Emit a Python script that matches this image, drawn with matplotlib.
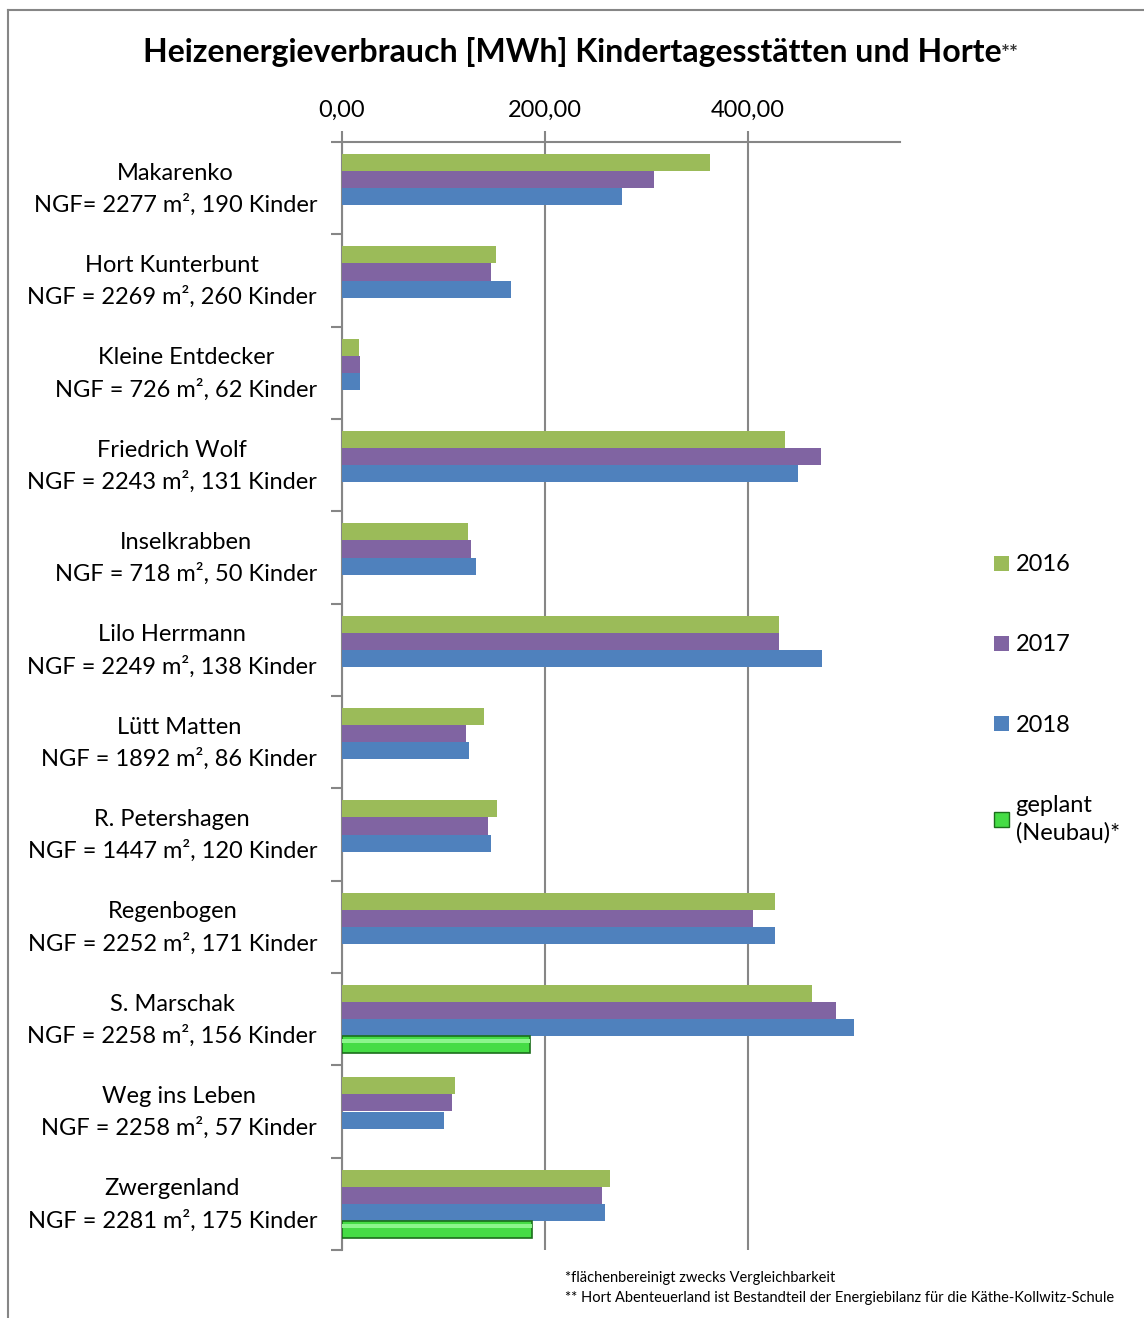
import matplotlib.pyplot as plt
import matplotlib.transforms as mtransforms
import numpy as np
from matplotlib.lines import Line2D
from matplotlib.patches import Patch

plt.rcParams['font.family'] = ['Lato', 'DejaVu Sans']

kitas = ['Makarenko\nNGF= 2277 m², 190 Kinder',
         'Hort Kunterbunt\nNGF = 2269 m², 260 Kinder',
         'Kleine Entdecker\nNGF = 726 m², 62 Kinder',
         'Friedrich Wolf\nNGF = 2243 m², 131 Kinder',
         'Inselkrabben\nNGF = 718 m², 50 Kinder',
         'Lilo Herrmann\nNGF = 2249 m², 138 Kinder',
         'Lütt Matten\nNGF = 1892 m², 86 Kinder',
         'R. Petershagen\nNGF = 1447 m², 120 Kinder',
         'Regenbogen\nNGF = 2252 m², 171 Kinder',
         'S. Marschak\nNGF = 2258 m², 156 Kinder',
         'Weg ins Leben\nNGF = 2258 m², 57 Kinder',
         'Zwergenland\nNGF = 2281 m², 175 Kinder']
mwh_2016 = [363, 152, 17, 437, 124, 431, 140, 153, 427, 463, 111, 264]
mwh_2017 = [308, 147, 18, 472, 127, 431, 122, 144, 405, 487, 108, 256]
mwh_2018 = [276, 167, 18, 449, 132, 473, 125, 147, 427, 505, 101, 259]
geplant = [np.nan] * 9 + [185, np.nan, 187]

series = [('2016', mwh_2016, '#9BBB59'),
          ('2017', mwh_2017, '#8064A2'),
          ('2018', mwh_2018, '#4F81BD')]

fig = plt.figure(figsize=(11.44, 13.18), dpi=100)
ax = fig.add_axes([342 / 1144, 1 - 1250 / 1318, 558 / 1144, 1108 / 1318])

grey = '#868686'
n = len(kitas)
y = np.arange(n) + 0.5
h = 17 / 92.33

for i, (name, vals, col) in enumerate(series):
    ax.barh(y + (i - 1.5) * h, vals, height=h, color=col, edgecolor='none', zorder=3)
ax.barh(y + 1.5 * h, geplant, height=h, color='#45DC45', edgecolor='#1B6E1B',
        linewidth=1.2, zorder=3)
ax.barh(y + 1.5 * h - h * 0.2, geplant, height=h * 0.25, color='#8CF58C',
        edgecolor='none', zorder=4)

ax.set_xlim(0, 550)
ax.set_ylim(n, 0)
ax.xaxis.tick_top()
ax.set_xticks([0, 200, 400])
ax.set_xticklabels(['0,00', '200,00', '400,00'], fontsize=17)
ax.tick_params(axis='x', direction='out', length=8, width=1.5, color=grey, pad=7)
ax.set_yticks(y)
ax.set_yticklabels(kitas, fontsize=17, multialignment='center', linespacing=1.55)
ax.set_yticks(np.arange(n + 1), minor=True)
ax.tick_params(axis='y', which='major', length=0, pad=18)
ax.tick_params(axis='y', which='minor', direction='out', length=8, width=1.5, color=grey)
# nudge the two-line labels up a little
shift = mtransforms.ScaledTranslation(0, 6 / 100, fig.dpi_scale_trans)
for lab in ax.get_yticklabels():
    lab.set_transform(lab.get_transform() + shift)
ax.grid(axis='x', color=grey, linewidth=1.5, zorder=1)
for s in ['right', 'bottom']:
    ax.spines[s].set_visible(False)
for s in ['top', 'left']:
    ax.spines[s].set_color(grey)
    ax.spines[s].set_linewidth(1.5)

t = fig.text(572 / 1144, 1 - 52 / 1318, 'Heizenergieverbrauch [MWh] Kindertagesstätten und Horte',
             ha='center', va='center', fontsize=23, fontweight='bold')
ax.annotate('**', xy=(1, 0.1), xycoords=t, ha='left', va='bottom',
            fontsize=15, fontweight='bold', color='#333333')

handles = [Patch(facecolor=c, edgecolor='none', label=l) for l, _, c in series]
handles.append(Patch(facecolor='#45DC45', edgecolor='#1B6E1B', label='geplant\n(Neubau)*'))
leg = fig.legend(handles=handles, loc='upper left', bbox_to_anchor=(985 / 1144, 1 - 545 / 1318),
                 frameon=False, fontsize=17, handlelength=0.6, handleheight=0.6,
                 handletextpad=0.3, labelspacing=2.5, borderaxespad=0)
leg.get_texts()[3].set_linespacing(1.35)

fig.text(565 / 1144, 1 - 1278 / 1318, '*flächenbereinigt zwecks Vergleichbarkeit',
         fontsize=10.5, va='center')
fig.text(565 / 1144, 1 - 1298 / 1318,
         '** Hort Abenteuerland ist Bestandteil der Energiebilanz für die Käthe-Kollwitz-Schule',
         fontsize=10.5, va='center')

fig.add_artist(Line2D([8 / 1144, 1], [1 - 10 / 1318] * 2, color=grey, linewidth=1.5))
fig.add_artist(Line2D([8 / 1144] * 2, [0, 1 - 10 / 1318], color=grey, linewidth=1.5))

fig.savefig('out.png', dpi=100)
